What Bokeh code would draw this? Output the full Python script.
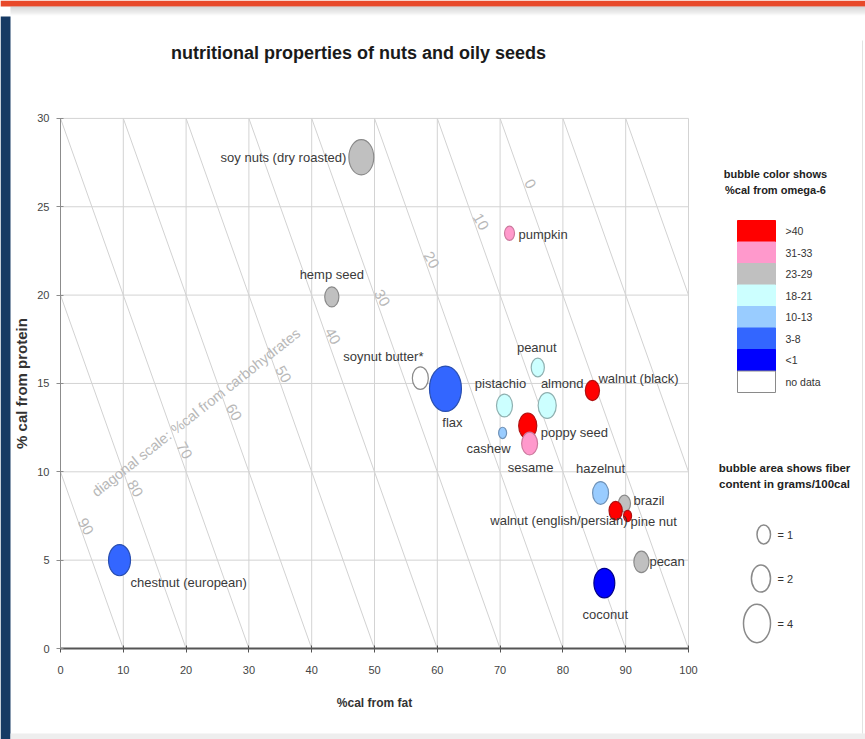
import math
from bokeh.plotting import figure
from bokeh.models import Range1d, FixedTicker, ColumnDataSource, Label
from bokeh.embed import file_html
from bokeh.resources import INLINE
from bokeh.core.properties import value

# ---------------- data ----------------
names = ["soy nuts (dry roasted)", "pumpkin", "hemp seed", "soynut butter*", "flax",
         "peanut", "pistachio", "almond", "walnut (black)", "cashew", "poppy seed",
         "sesame", "hazelnut", "brazil", "walnut (english/persian)", "pine nut",
         "pecan", "coconut", "chestnut (european)"]
fat_pct = [47.9, 71.5, 43.2, 57.3, 61.3, 76.0, 70.7, 77.5, 84.7, 70.4, 74.4,
           74.7, 86.0, 89.8, 88.4, 90.3, 92.5, 86.6, 9.4]
protein_pct = [27.8, 23.5, 19.9, 15.3, 14.7, 15.9, 13.75, 13.75, 14.6, 12.2, 12.6,
               11.6, 8.8, 8.2, 7.8, 7.5, 4.9, 3.7, 5.0]
fiber_g_per_100cal = [3.4, 0.55, 1.1, 1.4, 5.6, 0.95, 1.4, 1.8, 1.1, 0.35, 1.8,
                      1.4, 1.4, 0.8, 0.95, 0.35, 1.25, 2.4, 2.65]
omega6_class = ["23-29", "31-33", "23-29", "no data", "3-8", "18-21", "18-21", "18-21",
                ">40", "10-13", ">40", "31-33", "10-13", "23-29", ">40", ">40",
                "23-29", "<1", "3-8"]

omega6_labels = [">40", "31-33", "23-29", "18-21", "10-13", "3-8", "<1", "no data"]
omega6_colors = ["#ff0000", "#ff99cc", "#c0c0c0", "#ccffff", "#99ccff", "#3366ff", "#0000ff", "#ffffff"]
omega6_edges = ["#b01010", "#cc7a9e", "#8a8a8a", "#8fb0b0", "#6f92b8", "#2a4fb0", "#00008a", "#8a8a8a"]

fiber_legend = [1, 2, 4]
x_ticks = [0, 10, 20, 30, 40, 50, 60, 70, 80, 90, 100]
y_ticks = [0, 5, 10, 15, 20, 25, 30]
carb_levels = [90, 80, 70, 60, 50, 40, 30, 20, 10, 0, -10, -20, -30]
carb_tick_labels = [90, 80, 70, 60, 50, 40, 30, 20, 10, 0]

# ---------------- layout helpers (canvas pixels -> data) ----------------
W, H = 865, 739
XS = 6.28    # px per x unit
YS = 17.67   # px per y unit
X0, Y0 = 60, 648   # canvas px of data origin
def dx(px):
    return (px - X0) / XS
def dy(py):
    return (Y0 - py) / YS

FONT = "Liberation Sans"
K = 13.5      # bubble width px per sqrt(fiber)
ASPECT = 1.42

p = figure(width=W, height=H, output_backend="svg", toolbar_location=None,
           x_range=Range1d(dx(0), dx(W)), y_range=Range1d(dy(H), dy(0)),
           min_border_left=0, min_border_right=0, min_border_top=0, min_border_bottom=0)
p.outline_line_color = None
p.xgrid.visible = False
p.ygrid.visible = False
p.background_fill_color = "white"
p.border_fill_color = "white"

# page decoration (slide frame)
p.quad(left=dx(0), right=dx(W), top=dy(0), bottom=dy(6), fill_color="#e8492a", line_color=None)
for k in range(9):
    p.quad(left=dx(10), right=dx(W), top=dy(6 + k), bottom=dy(7 + k),
           fill_color="#9a9a9a", fill_alpha=0.45 * (1 - k / 9), line_color=None)
p.quad(left=dx(0), right=dx(10), top=dy(16), bottom=dy(H), fill_color="#173a64", line_color=None)
p.quad(left=dx(10), right=dx(W), top=dy(733), bottom=dy(H), fill_color="#eeeeee", line_color=None)
p.segment(dx(862), dy(40), dx(862), dy(733), line_color="#e2e2e2", line_width=1)

# axes (fixed at data origin)
p.xaxis.fixed_location = 0
p.yaxis.fixed_location = 0
p.xaxis.ticker = FixedTicker(ticks=x_ticks)
p.yaxis.ticker = FixedTicker(ticks=y_ticks)
p.xaxis.bounds = (0, 100)
p.yaxis.bounds = (0, 30)
for ax in (p.xaxis[0], p.yaxis[0]):
    ax.minor_tick_line_color = None
    ax.major_tick_in = 3
    ax.major_tick_out = 4
    ax.major_label_text_font = FONT
    ax.major_label_text_font_size = "11px"
    ax.major_label_text_color = "#444444"
    ax.axis_label_text_font = FONT
    ax.axis_label_text_font_style = "bold"
    ax.axis_label_text_color = "#333333"
p.xaxis.axis_label_text_font_size = "12px"
p.yaxis.axis_label_text_font_size = "15px"
p.xaxis.axis_line_color = "#555555"
p.xaxis.axis_line_width = 2
p.xaxis.major_tick_line_color = "#555555"
p.yaxis.axis_line_color = "#8c8c8c"
p.yaxis.major_tick_line_color = "#8c8c8c"
p.xaxis.major_label_standoff = 13
p.xaxis.axis_label_standoff = 19
p.yaxis.major_label_standoff = 7
p.yaxis.axis_label_standoff = 4
p.xaxis.axis_label = "%cal from fat"
p.yaxis.axis_label = "% cal from protein"

# diagonal lines of constant % carbohydrate: fat + protein = 100 - carb
xs0, ys0, xs1, ys1 = [], [], [], []
for c in carb_levels:
    s = 100 - c
    a = max(0, s - 30)
    b = min(s, 100)
    xs0.append(a); ys0.append(s - a); xs1.append(b); ys1.append(s - b)
p.segment(xs0, ys0, xs1, ys1, line_color="#d2d2d2", line_width=1)

# grid (inside plot box only)
p.segment(x_ticks[1:], [0] * (len(x_ticks) - 1), x_ticks[1:], [30] * (len(x_ticks) - 1),
          line_color="#d3d3d3", line_width=1)
p.segment([0] * (len(y_ticks) - 1), y_ticks[1:], [100] * (len(y_ticks) - 1), y_ticks[1:],
          line_color="#d3d3d3", line_width=1)

# diagonal scale labels
lx, ly = [], []
for c in carb_tick_labels:
    t = (90 - c) / 90
    lx.append(4 + 70.8 * t)
    ly.append(6.9 + 19.4 * t)
p.text(lx, ly, text=[str(c) for c in carb_tick_labels], angle=-1.05,
       text_font=value(FONT), text_font_size="15px", text_color="#b8b8b8",
       text_align="center", text_baseline="middle")
p.add_layout(Label(x=dx(195.5), y=dy(412), text="diagonal scale: %cal from carbohydrates",
                   angle=0.67, text_font=FONT, text_font_size="14.5px",
                   text_color="#b8b8b8", text_align="center", text_baseline="middle"))

# bubbles
fills = [omega6_colors[omega6_labels.index(c)] for c in omega6_class]
edges = [omega6_edges[omega6_labels.index(c)] for c in omega6_class]
widths = [K * math.sqrt(f) for f in fiber_g_per_100cal]
heights = [w * ASPECT for w in widths]
src = ColumnDataSource(dict(x=fat_pct, y=protein_pct, w=widths, h=heights,
                            fill=fills, edge=edges, name=names))
p.ellipse(x="x", y="y", width="w", height="h", width_units="screen", height_units="screen",
          fill_color="fill", line_color="edge", line_width=1.2, source=src)

# bubble labels (placement: align, x offset px, y offset px)
placement = {
    "soy nuts (dry roasted)": ("right", -15, 0),
    "pumpkin": ("left", 9, 1),
    "hemp seed": ("center", 0, -22),
    "soynut butter*": ("center", -37, -22),
    "flax": ("center", 7, 34),
    "peanut": ("center", -1, -20),
    "pistachio": ("center", -4, -22),
    "almond": ("center", 15, -22),
    "walnut (black)": ("left", 6, -12),
    "cashew": ("right", 8, 16),
    "poppy seed": ("left", 13, 7),
    "sesame": ("center", 1, 24),
    "hazelnut": ("center", 0, -25),
    "brazil": ("left", 9, -3),
    "walnut (english/persian)": ("right", 12, 10),
    "pine nut": ("left", 3, 6),
    "pecan": ("left", 8, 0),
    "coconut": ("center", 1, 31),
    "chestnut (european)": ("left", 11, 22),
}
for align in ("left", "center", "right"):
    idx = [i for i, n in enumerate(names) if placement[n][0] == align]
    p.text([fat_pct[i] for i in idx], [protein_pct[i] for i in idx],
           text=[names[i] for i in idx],
           x_offset=[placement[names[i]][1] for i in idx],
           y_offset=[placement[names[i]][2] for i in idx],
           text_font=value(FONT), text_font_size="13px", text_color="#3a3a3a",
           text_align=align, text_baseline="middle")

# title
p.add_layout(Label(x=dx(358), y=dy(52), text="nutritional properties of nuts and oily seeds",
                   text_font=FONT, text_font_style="bold", text_font_size="18px",
                   text_color="#1a1a1a", text_align="center", text_baseline="middle"))

# ---- colour legend ----
for i, t in enumerate(["bubble color shows", "%cal from omega-6"]):
    p.add_layout(Label(x=dx(775), y=dy(173 + 16 * i), text=t, text_font=FONT,
                       text_font_style="bold", text_font_size="11px", text_color="#222222",
                       text_align="center", text_baseline="middle"))
sw_top = 220
sw_h = 21.5
tops = [dy(sw_top + sw_h * i) for i in range(len(omega6_labels))]
bottoms = [dy(sw_top + sw_h * (i + 1)) for i in range(len(omega6_labels))]
sw_lines = [c if c != "#ffffff" else "#8a8a8a" for c in omega6_colors]
p.quad(left=dx(737), right=dx(775), top=tops, bottom=bottoms,
       fill_color=omega6_colors, line_color=sw_lines, line_width=1)
p.text([dx(785)] * len(omega6_labels), [(t + b) / 2 for t, b in zip(tops, bottoms)],
       text=omega6_labels, text_font=value(FONT), text_font_size="10.5px",
       text_color="#333333", text_align="left", text_baseline="middle")

# ---- size legend ----
for i, t in enumerate(["bubble area shows fiber", "content in grams/100cal"]):
    p.add_layout(Label(x=dx(784), y=dy(467 + 16 * i), text=t, text_font=FONT,
                       text_font_style="bold", text_font_size="11.5px", text_color="#222222",
                       text_align="center", text_baseline="middle"))
leg_w = [K * math.sqrt(v) for v in fiber_legend]
leg_y = [dy(534), dy(578), dy(623)]
p.ellipse(x=[dx(770 - w / 2) for w in leg_w], y=leg_y, width=leg_w,
          height=[w * ASPECT for w in leg_w], width_units="screen", height_units="screen",
          fill_color="white", line_color="#8a8a8a", line_width=1.5)
p.text([dx(777)] * 3, leg_y, text=["= " + str(v) for v in fiber_legend],
       text_font=value(FONT), text_font_size="11px", text_color="#333333",
       text_align="left", text_baseline="middle")

open("out.html", "w").write(file_html(p, INLINE))
